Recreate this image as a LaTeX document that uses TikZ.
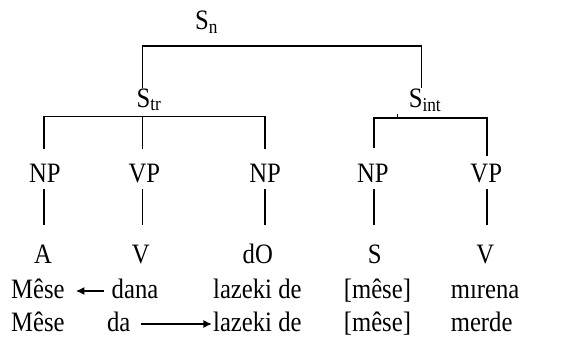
\documentclass[tikz,border=0pt]{standalone}
\usepackage{fontspec}
\setmainfont{Liberation Serif}
\usetikzlibrary{arrows.meta}
\newcommand{\sq}[1]{\scalebox{0.914}[1.04]{#1}}
\begin{document}
\begin{tikzpicture}[x=0.914pt,y=-1pt,
  lbl/.style={inner sep=0pt, anchor=base, font=\fontsize{27}{32}\selectfont},
  wrd/.style={inner sep=0pt, anchor=base west, font=\fontsize{27}{32}\selectfont},
  edge/.style={line width=1.5pt},
  arr/.style={line width=1.5pt, -{Latex[length=8.5pt,width=8pt]}}]
\useasboundingbox (0,0) rectangle (628,345);
% labels
\node[lbl] (Sn) at (226,30) {\sq{S\textsubscript{n}}};
\node[lbl] (Str) at (163,107) {\sq{S\textsubscript{tr}}};
\node[lbl] (Sint) at (465,107) {\sq{S\textsubscript{int}}};
\node[lbl] (np1) at (49,182) {\sq{NP}};
\node[lbl] (vp1) at (158,182) {\sq{VP}};
\node[lbl] (np2) at (290,182) {\sq{NP}};
\node[lbl] (np3) at (408,182) {\sq{NP}};
\node[lbl] (vp2) at (532,182) {\sq{VP}};
\node[lbl] (a) at (47,263) {\sq{A}};
\node[lbl] (v1) at (154,263) {\sq{V}};
\node[lbl] (do) at (282,263) {\sq{dO}};
\node[lbl] (s) at (410,263) {\sq{S}};
\node[lbl] (v2) at (531,263) {\sq{V}};
% row 2
\node[wrd] (mese1) at (12,298) {\sq{Mêse}};
\node[wrd] (dana) at (122,298) {\sq{dana}};
\node[wrd] (laz1) at (233,298) {\sq{lazeki de}};
\node[wrd] (br1) at (376,298) {\sq{[mêse]}};
\node[wrd] (mirena) at (493,298) {\sq{mırena}};
% row 3
\node[wrd] (mese2) at (12,331) {\sq{Mêse}};
\node[wrd] (da) at (117,331) {\sq{da}};
\node[wrd] (laz2) at (233,331) {\sq{lazeki de}};
\node[wrd] (br2) at (376,331) {\sq{[mêse]}};
\node[wrd] (merde) at (493,331) {\sq{merde}};
% tree coordinates
\coordinate (tL) at (156,46);
\coordinate (tR) at (461,46);
\coordinate (tLb) at (156,88);
\coordinate (tRb) at (461,88);
\coordinate (trLt) at (48,116.5);
\coordinate (trMt) at (156,116.5);
\coordinate (trRt) at (290,116.5);
\coordinate (trL) at (48,149);
\coordinate (trM) at (156,149);
\coordinate (trR) at (290,149);
\coordinate (inLt) at (409,118);
\coordinate (inRt) at (533,118);
\coordinate (inL) at (409,148);
\coordinate (inR) at (533,156);
\coordinate (inT) at (435,114);
\coordinate (inTb) at (435,118);
\draw[edge] (tLb) -- (tL) -- (tR) -- (tRb);
\draw[edge] (trL) -- (trLt) -- (trRt) -- (trR);
\draw[edge] (trMt) -- (trM);
\draw[edge] (inL) -- (inLt) -- (inRt) -- (inR);
\draw[edge, line width=0.8pt] (inT) -- (inTb);
% lower lines
\foreach \n/\x in {l1/48,l2/156,l3/290,l4/409,l5/533}{
  \coordinate (\n t) at (\x,189);
  \coordinate (\n b) at (\x,225);
  \draw[edge] (\n t) -- (\n b);
}
% arrows
\draw[arr] ([xshift=-8pt,yshift=7pt]dana.base west) -- ([xshift=11pt,yshift=7pt]mese1.base east);
\draw[arr] ([xshift=10pt,yshift=7pt]da.base east) -- ([xshift=-1pt,yshift=7pt]laz2.base west);
\end{tikzpicture}
\end{document}
